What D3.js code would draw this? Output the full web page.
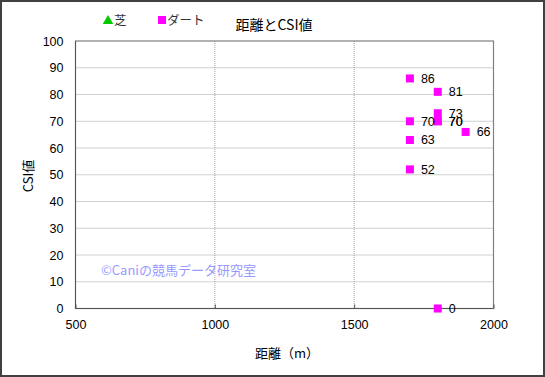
<!DOCTYPE html>
<html><head><meta charset="utf-8">
<script src="https://cdn.jsdelivr.net/npm/d3@7/dist/d3.min.js"></script>
<style>
body{margin:0;background:#fff;}
text{font-family:"Liberation Sans","Noto Sans CJK JP",sans-serif;}
.jp{font-family:"Noto Sans CJK JP","Liberation Sans",sans-serif;}
</style></head>
<body>
<svg id="c" width="545" height="377"></svg>
<script>
const distances = [1700, 1800, 1800, 1800, 1800, 1700, 1900, 1700, 1700, 1800];
const csiValues = [86, 81, 73, 70, 70, 70, 66, 63, 52, 0];
const xTicks = [500, 1000, 1500, 2000];
const yTicks = [0, 10, 20, 30, 40, 50, 60, 70, 80, 90, 100];
const legendItems = ["芝", "ダート"];
const legendColors = ["#00cc00", "#ff00ff"];
const title = "距離とCSI値";
const xTitle = "距離（m）";
const yTitle = "CSI値";
const watermark = "©Caniの競馬データ研究室";

const svg = d3.select("#c");
const L = 75.5, R = 493.5, T = 41, B = 308.5;
const x = d3.scaleLinear().domain([500, 2000]).range([L, R]);
const y = d3.scaleLinear().domain([0, 100]).range([B, T]);

// outer frame
svg.append("rect").attr("x", 1).attr("y", 1).attr("width", 543).attr("height", 375)
  .attr("fill", "#fff").attr("stroke", "#404040").attr("stroke-width", 2);

// gridlines
svg.append("g").selectAll("line").data(yTicks.slice(1, -1)).join("line")
  .attr("x1", L).attr("x2", R).attr("y1", d => y(d)).attr("y2", d => y(d))
  .attr("stroke", "#a0a0a0").attr("stroke-dasharray", "1,1");
svg.append("g").selectAll("line").data(xTicks.slice(1, -1)).join("line")
  .attr("y1", T).attr("y2", B).attr("x1", d => x(d)).attr("x2", d => x(d))
  .attr("stroke", "#a0a0a0").attr("stroke-dasharray", "1,1");

// plot border
svg.append("rect").attr("x", L).attr("y", T).attr("width", R - L).attr("height", B - T)
  .attr("fill", "none").attr("stroke", "#808080").attr("stroke-width", 1.2);
svg.append("line").attr("x1", L).attr("x2", L).attr("y1", T).attr("y2", B).attr("stroke", "#555");
svg.append("line").attr("x1", L).attr("x2", R).attr("y1", B).attr("y2", B).attr("stroke", "#555");

// axes
const xAxis = svg.append("g").attr("transform", `translate(0,${B})`)
  .call(d3.axisBottom(x).tickValues(xTicks).tickSize(-4).tickPadding(12).tickFormat(d3.format("d")));
xAxis.select(".domain").remove();
xAxis.selectAll("line").attr("stroke", "#555");
xAxis.selectAll("text").attr("font-size", 12.5).attr("fill", "#000")
  .attr("font-family", "Liberation Sans");

const yAxis = svg.append("g").attr("transform", `translate(${L},0)`)
  .call(d3.axisLeft(y).tickValues(yTicks).tickSize(0).tickPadding(12));
yAxis.select(".domain").remove();
yAxis.selectAll("text").attr("font-size", 12.5).attr("fill", "#000")
  .attr("font-family", "Liberation Sans");

// watermark
svg.append("text").attr("class", "jp").attr("x", 101).attr("y", 275)
  .attr("font-size", 13).attr("fill", "#9999ff").text(watermark);

// points
const pts = distances.map((d, i) => ({d, v: csiValues[i]}));
svg.append("g").selectAll("rect").data(pts).join("rect")
  .attr("x", p => x(p.d) - 4).attr("y", p => y(p.v) - 4)
  .attr("width", 8).attr("height", 8).attr("fill", "#ff00ff");
svg.append("g").selectAll("text").data(pts).join("text")
  .attr("x", p => x(p.d) + 11).attr("y", p => y(p.v) + 4.5)
  .attr("font-size", 12.5).attr("fill", "#000").text(p => p.v);

// titles
svg.append("text").attr("class", "jp").attr("x", 274).attr("y", 30)
  .attr("text-anchor", "middle").attr("font-size", 14).text(title);
svg.append("text").attr("class", "jp").attr("x", 287).attr("y", 358)
  .attr("text-anchor", "middle").attr("font-size", 13).text(xTitle);
svg.append("text").attr("class", "jp")
  .attr("transform", "translate(33,176) rotate(-90)")
  .attr("text-anchor", "middle").attr("font-size", 13).text(yTitle);

// legend
const lg = svg.append("g");
lg.append("path").attr("d", d3.symbol().type(d3.symbolTriangle).size(48)())
  .attr("transform", "translate(108,21)").attr("fill", legendColors[0]);
lg.append("text").attr("class", "jp").attr("x", 114).attr("y", 25).attr("font-size", 12.5)
  .attr("fill", "#333").text(legendItems[0]);
lg.append("rect").attr("x", 158).attr("y", 16).attr("width", 8).attr("height", 8).attr("fill", legendColors[1]);
lg.append("text").attr("class", "jp").attr("x", 167).attr("y", 25).attr("font-size", 12.5)
  .attr("fill", "#333").text(legendItems[1]);
</script>
</body></html>
